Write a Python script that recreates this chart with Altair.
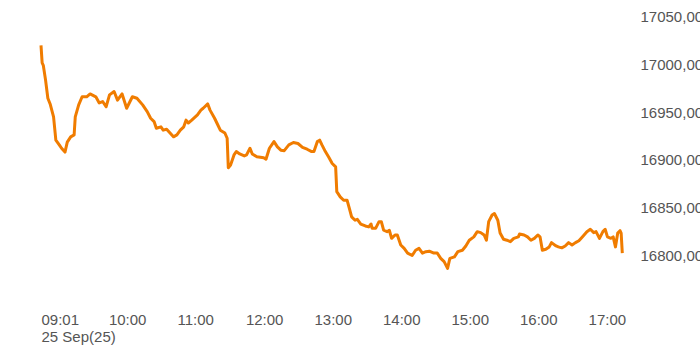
import altair as alt
import pandas as pd

DAY = "2025-09-25"

times = [
    "09:01", "09:02", "09:03", "09:05", "09:07", "09:09", "09:12", "09:14", "09:17", "09:19",
    "09:22", "09:24", "09:27", "09:30", "09:31", "09:34", "09:37", "09:41", "09:44", "09:49",
    "09:52", "09:55", "09:58", "10:01", "10:05", "10:08", "10:12", "10:16", "10:21", "10:25",
    "10:30", "10:34", "10:37", "10:40", "10:42", "10:46", "10:48", "10:51", "10:54", "10:57",
    "11:00", "11:03", "11:06", "11:08", "11:10", "11:13", "11:18", "11:21", "11:23", "11:27",
    "11:29", "11:33", "11:35", "11:38", "11:42", "11:44", "11:45", "11:47", "11:50", "11:52",
    "11:55", "11:59", "12:01", "12:04", "12:06", "12:10", "12:16", "12:18", "12:21", "12:25",
    "12:28", "12:31", "12:34", "12:38", "12:42", "12:46", "12:50", "12:54", "12:58", "13:00",
    "13:03", "13:05", "13:07", "13:10", "13:13", "13:16", "13:19", "13:20", "13:23", "13:26",
    "13:29", "13:31", "13:33", "13:36", "13:38", "13:41", "13:45", "13:48", "13:50", "13:51",
    "13:54", "13:57", "13:59", "14:01", "14:04", "14:06", "14:08", "14:11", "14:13", "14:16",
    "14:19", "14:22", "14:26", "14:29", "14:32", "14:35", "14:38", "14:41", "14:45", "14:48",
    "14:51", "14:54", "14:57", "14:59", "15:03", "15:06", "15:10", "15:13", "15:16", "15:20",
    "15:23", "15:26", "15:29", "15:31", "15:33", "15:36", "15:38", "15:41", "15:43", "15:46",
    "15:49", "15:52", "15:55", "15:59", "16:00", "16:04", "16:07", "16:10", "16:13", "16:16",
    "16:18", "16:20", "16:23", "16:26", "16:28", "16:32", "16:34", "16:37", "16:40", "16:43",
    "16:46", "16:49", "16:52", "16:55", "16:59", "17:02", "17:05", "17:07", "17:10", "17:13",
    "17:15", "17:17", "17:20", "17:22", "17:24", "17:26", "17:28", "17:29", "17:30",
]

values = [
    17020, 17001.5, 16999, 16983.5, 16964.5, 16958.5, 16945, 16920.5, 16915.5, 16912,
    16908, 16918.5, 16924, 16926, 16945, 16957.5, 16966, 16966, 16969, 16966,
    16959.5, 16961, 16955.5, 16968, 16971.5, 16962.5, 16969, 16954, 16966, 16964.5,
    16957.5, 16950.5, 16943.5, 16940, 16933, 16934.5, 16931, 16932, 16928, 16924,
    16926, 16931, 16934.5, 16941.5, 16938.5, 16941.5, 16947, 16952, 16954, 16958.5,
    16952, 16943.5, 16938.5, 16931, 16928, 16922.5, 16891.5, 16894.5, 16905, 16908.5,
    16906, 16904, 16905, 16912, 16906, 16903, 16902, 16900.5, 16912, 16919,
    16913.5, 16910, 16909.5, 16915.5, 16918, 16917, 16913, 16911, 16908.5, 16908.5,
    16919, 16920.5, 16915.5, 16908.5, 16902.5, 16896, 16892.5, 16866.5, 16861, 16857.5,
    16857.5, 16849, 16840, 16836.5, 16837.5, 16832.5, 16830.5, 16829.5, 16832.5, 16828,
    16828, 16835, 16835, 16826, 16824.5, 16826, 16817.5, 16821, 16821, 16810.5,
    16807, 16802, 16799.5, 16805, 16807, 16802, 16803.5, 16804, 16802, 16802,
    16796.5, 16793, 16786, 16796.5, 16798, 16803.5, 16805, 16809.5, 16815.5, 16819,
    16824.5, 16823.5, 16821, 16815.5, 16835, 16842, 16843.5, 16836.5, 16823, 16816.5,
    16815.5, 16814, 16817.5, 16819, 16822, 16821, 16819, 16815.5, 16817.5, 16821,
    16819, 16805, 16806, 16808.5, 16813, 16809.5, 16808.5, 16807.5, 16809.5, 16813,
    16810.5, 16813, 16815, 16819, 16824.5, 16827, 16823.5, 16824.5, 16817.5, 16824.5,
    16827, 16819, 16817.5, 16819, 16808.5, 16823, 16825.5, 16823, 16802,
]

x_ticks = ["09:01", "10:00", "11:00", "12:00", "13:00", "14:00", "15:00", "16:00", "17:00"]
x_range = ["09:01", "17:42"]
y_ticks = [16800, 16850, 16900, 16950, 17000, 17050]
y_range = [16752.8, 17062.3]

df = pd.DataFrame({"time": [f"{DAY}T{t}:00" for t in times], "value": values})


def dt(hm):
    h, m = map(int, hm.split(":"))
    return alt.DateTime(year=2025, month=9, date=25, hours=h, minutes=m)


FONT = "Liberation Sans"
TXT = "#555555"

x_label_expr = (
    "hours(datum.value) == 9 ? "
    "[timeFormat(datum.value, '%H:%M'), timeFormat(datum.value, '%d %b(%y)')] : "
    "timeFormat(datum.value, '%H:%M')"
)

chart = (
    alt.Chart(df)
    .mark_line(color="#f07c00", strokeWidth=3, strokeJoin="round")
    .encode(
        x=alt.X(
            "time:T",
            title=None,
            scale=alt.Scale(domain=[dt(t) for t in x_range]),
            axis=alt.Axis(
                values=[dt(t) for t in x_ticks],
                labelExpr=x_label_expr,
                labelAlign="left",
                labelBaseline="top",
                labelLineHeight=17,
                labelPadding=12,
                labelFont=FONT,
                labelFontSize=15,
                labelColor=TXT,
                labelOverlap=False,
                labelFlush=False,
                ticks=False,
                domain=False,
                grid=False,
            ),
        ),
        y=alt.Y(
            "value:Q",
            title=None,
            scale=alt.Scale(domain=y_range, zero=False, nice=False),
            axis=alt.Axis(
                orient="right",
                values=y_ticks,
                labelExpr="replace(format(datum.value, '.2f'), '.', ',')",
                labelPadding=4,
                labelFont=FONT,
                labelFontSize=15,
                labelColor=TXT,
                labelOverlap=False,
                labelFlush=False,
                ticks=False,
                domain=False,
                grid=False,
            ),
        ),
    )
    .properties(
        width=595,
        height=295,
        padding={"left": 41, "top": 5, "right": 64, "bottom": 50},
        autosize="none",
        background="white",
    )
    .configure_view(strokeWidth=0)
)

chart.save("out.html", embed_options={"renderer": "svg", "actions": False})
